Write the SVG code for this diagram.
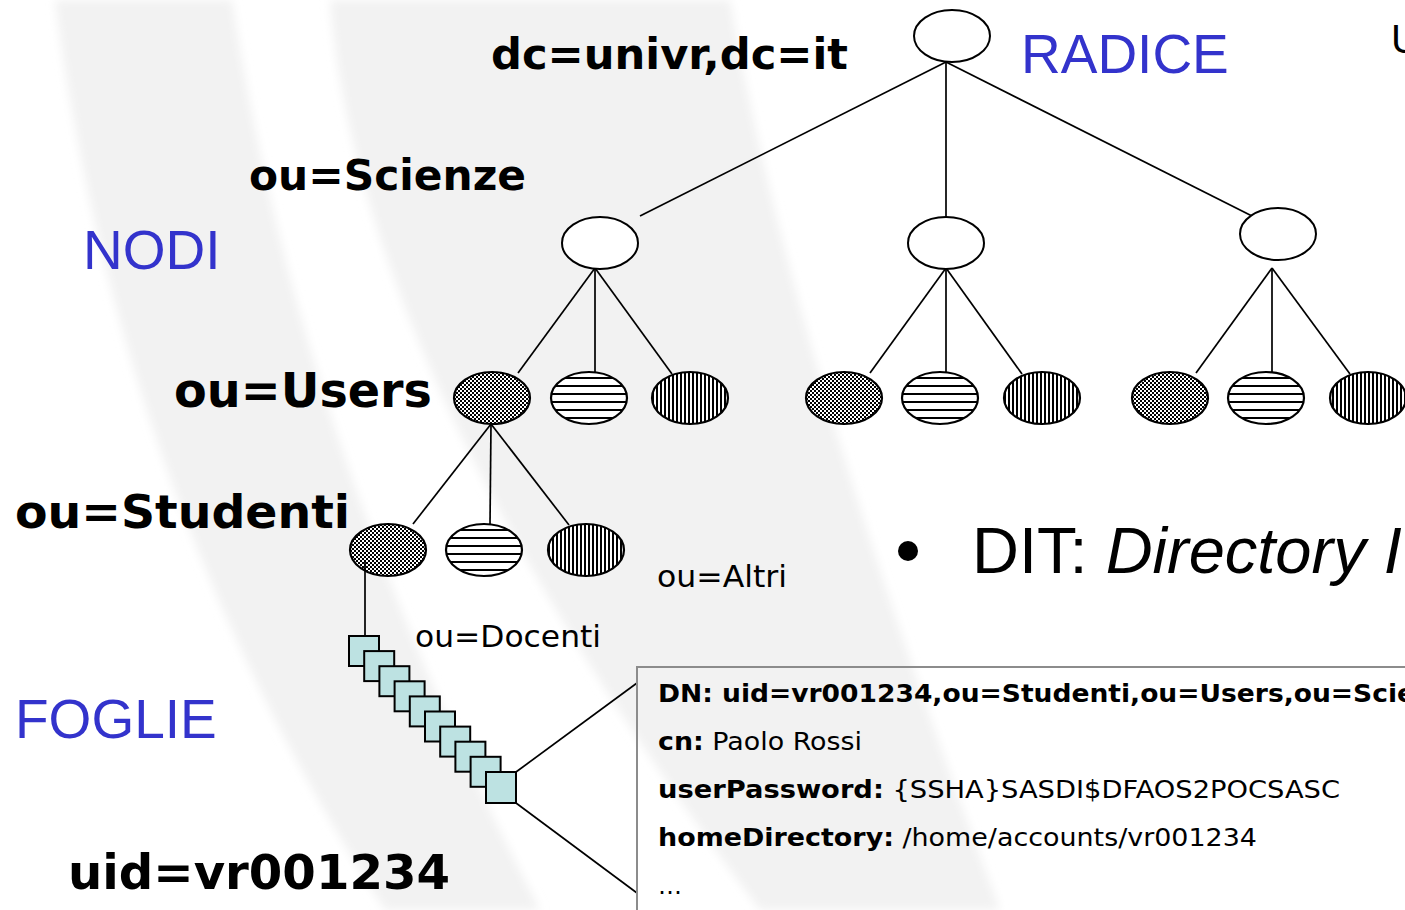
<svg xmlns="http://www.w3.org/2000/svg" width="1405" height="910" viewBox="0 0 1405 910">
  <defs>
    <pattern id="chk" width="4" height="4" patternUnits="userSpaceOnUse">
      <rect width="4" height="4" fill="#fff"/>
      <rect width="2" height="2" fill="#000"/>
      <rect x="2" y="2" width="2" height="2" fill="#000"/>
    </pattern>
    <pattern id="hln" y="1" width="8" height="8" patternUnits="userSpaceOnUse">
      <rect width="8" height="8" fill="#fff"/>
      <rect width="8" height="2" fill="#000"/>
    </pattern>
    <pattern id="vln" width="4" height="4" patternUnits="userSpaceOnUse">
      <rect width="4" height="4" fill="#fff"/>
      <rect width="2" height="4" fill="#000"/>
    </pattern>
    <filter id="soft" x="-10%" y="-10%" width="120%" height="120%">
      <feGaussianBlur stdDeviation="5"/>
    </filter>
  </defs>
  <style>
    .bold { font-family: "DejaVu Sans", Verdana, sans-serif; font-weight: bold; fill: #000; }
    .reg { font-family: "DejaVu Sans", Verdana, sans-serif; fill: #000; }
    .blue { font-family: "Liberation Sans", Arial, sans-serif; fill: #3333cc; font-size: 55px; }
    .arial { font-family: "Liberation Sans", Arial, sans-serif; fill: #000; }
    .node { fill: #fff; stroke: #000; stroke-width: 2; }
    .chk { fill: url(#chk); stroke: #000; stroke-width: 2.2; }
    .hln { fill: url(#hln); stroke: #000; stroke-width: 2.2; }
    .vln { fill: url(#vln); stroke: #000; stroke-width: 2.2; }
    .leaf { fill: #bde2e2; stroke: #000; stroke-width: 2; }
    .edge { stroke: #000; stroke-width: 1.7; fill: none; }
    .box text { font-family: "DejaVu Sans", Tahoma, sans-serif; font-size: 24px; fill: #000; }
    .box .b { font-weight: bold; }
  </style>

  <!-- template background swooshes -->
  <rect width="1405" height="910" fill="#fff"/>
  <g fill="#f2f2f2" filter="url(#soft)">
    <path d="M55 0 L232 0 Q300 450 540 910 L385 910 Q120 500 55 0 Z"/>
    <path d="M330 0 L730 0 Q790 350 1000 910 L760 910 Q360 380 330 0 Z"/>
  </g>

  <!-- connectors -->
  <g id="connectors" class="edge">
    <line x1="946" y1="62" x2="640" y2="216"/>
    <line x1="946" y1="62" x2="946" y2="217"/>
    <line x1="946" y1="62" x2="1252" y2="216"/>
    <line x1="595" y1="268" x2="518" y2="373"/>
    <line x1="595" y1="268" x2="595" y2="373"/>
    <line x1="595" y1="268" x2="672" y2="374"/>
    <line x1="946" y1="268" x2="870" y2="373"/>
    <line x1="946" y1="268" x2="946" y2="373"/>
    <line x1="946" y1="268" x2="1022" y2="374"/>
    <line x1="1272" y1="268" x2="1196" y2="373"/>
    <line x1="1272" y1="268" x2="1272" y2="373"/>
    <line x1="1272" y1="268" x2="1350" y2="374"/>
    <line x1="491" y1="424" x2="413" y2="524"/>
    <line x1="491" y1="424" x2="490" y2="525"/>
    <line x1="491" y1="424" x2="569" y2="525"/>
    <line x1="516" y1="772" x2="637" y2="683"/>
    <line x1="516" y1="803" x2="637" y2="893"/>
  </g>

  <!-- root and first level -->
  <g id="root"><ellipse class="node" cx="952" cy="36" rx="38" ry="26"/></g>
  <g id="scienze"><ellipse class="node" cx="600" cy="243" rx="38" ry="26"/></g>
  <g id="ou-mid"><ellipse class="node" cx="946" cy="243" rx="38" ry="26"/></g>
  <g id="ou-right"><ellipse class="node" cx="1278" cy="234" rx="38" ry="26"/></g>

  <!-- second level -->
  <g id="users"><ellipse class="chk" cx="492" cy="398" rx="38" ry="26"/></g>
  <g id="l2-b"><ellipse class="hln" cx="589" cy="398" rx="38" ry="26"/></g>
  <g id="l2-c"><ellipse class="vln" cx="690" cy="398" rx="38" ry="26"/></g>
  <g id="l2-d"><ellipse class="chk" cx="844" cy="398" rx="38" ry="26"/></g>
  <g id="l2-e"><ellipse class="hln" cx="940" cy="398" rx="38" ry="26"/></g>
  <g id="l2-f"><ellipse class="vln" cx="1042" cy="398" rx="38" ry="26"/></g>
  <g id="l2-g"><ellipse class="chk" cx="1170" cy="398" rx="38" ry="26"/></g>
  <g id="l2-h"><ellipse class="hln" cx="1266" cy="398" rx="38" ry="26"/></g>
  <g id="l2-i"><ellipse class="vln" cx="1368" cy="398" rx="38" ry="26"/></g>

  <!-- third level -->
  <g id="studenti"><ellipse class="chk" cx="388" cy="550" rx="38" ry="26"/></g>
  <g id="docenti"><ellipse class="hln" cx="484" cy="550" rx="38" ry="26"/></g>
  <g id="altri"><ellipse class="vln" cx="586" cy="550" rx="38" ry="26"/></g>

  <!-- leaves -->
  <g id="leaves">
    <line class="edge" x1="365" y1="560" x2="365" y2="636"/>
    <rect class="leaf" x="349" y="636" width="30" height="30"/>
    <rect class="leaf" x="364.2" y="651.1" width="30" height="30"/>
    <rect class="leaf" x="379.4" y="666.2" width="30" height="30"/>
    <rect class="leaf" x="394.6" y="681.3" width="30" height="30"/>
    <rect class="leaf" x="409.8" y="696.4" width="30" height="30"/>
    <rect class="leaf" x="425" y="711.5" width="30" height="30"/>
    <rect class="leaf" x="440.2" y="726.6" width="30" height="30"/>
    <rect class="leaf" x="455.4" y="741.7" width="30" height="30"/>
    <rect class="leaf" x="470.6" y="756.8" width="30" height="30"/>
    <rect class="leaf" x="486" y="772" width="30" height="31"/>
  </g>

  <!-- entry detail box -->
  <g id="entry" class="box">
    <rect x="637" y="667" width="800" height="270" fill="none" stroke="#8c8c8c" stroke-width="2"/>
    <text x="658" y="702" class="b" textLength="757" lengthAdjust="spacingAndGlyphs">DN: uid=vr001234,ou=Studenti,ou=Users,ou=Scie</text>
    <text x="658" y="750" textLength="204" lengthAdjust="spacingAndGlyphs"><tspan class="b">cn:</tspan> Paolo Rossi</text>
    <text x="658" y="798" textLength="682" lengthAdjust="spacingAndGlyphs"><tspan class="b">userPassword:</tspan> {SSHA}SASDI$DFAOS2POCSASC</text>
    <text x="658" y="846" textLength="599" lengthAdjust="spacingAndGlyphs"><tspan class="b">homeDirectory:</tspan> /home/accounts/vr001234</text>
    <text x="658" y="894">…</text>
  </g>

  <!-- labels -->
  <g id="labels">
    <text class="bold" x="491" y="69" font-size="42" textLength="357" lengthAdjust="spacingAndGlyphs">dc=univr,dc=it</text>
    <text class="bold" x="249" y="190" font-size="42" textLength="277" lengthAdjust="spacingAndGlyphs">ou=Scienze</text>
    <text class="bold" x="174" y="407" font-size="48" textLength="258" lengthAdjust="spacingAndGlyphs">ou=Users</text>
    <text class="bold" x="15" y="528" font-size="47" textLength="335" lengthAdjust="spacingAndGlyphs">ou=Studenti</text>
    <text class="bold" x="68" y="889" font-size="48" textLength="382" lengthAdjust="spacingAndGlyphs">uid=vr001234</text>
    <text class="reg" x="657" y="587" font-size="31" textLength="130" lengthAdjust="spacingAndGlyphs">ou=Altri</text>
    <text class="reg" x="415" y="647" font-size="31" textLength="186" lengthAdjust="spacingAndGlyphs">ou=Docenti</text>
    <text class="blue" x="1021" y="73">RADICE</text>
    <text class="blue" x="83" y="269">NODI</text>
    <text class="blue" x="15" y="738">FOGLIE</text>
    <text class="arial" x="1391" y="53" font-size="40">U</text>
    <circle cx="908" cy="551" r="10" fill="#000"/>
    <text class="arial" x="972" y="573" font-size="65">DIT: <tspan font-style="italic">Directory I</tspan></text>
  </g>
</svg>
